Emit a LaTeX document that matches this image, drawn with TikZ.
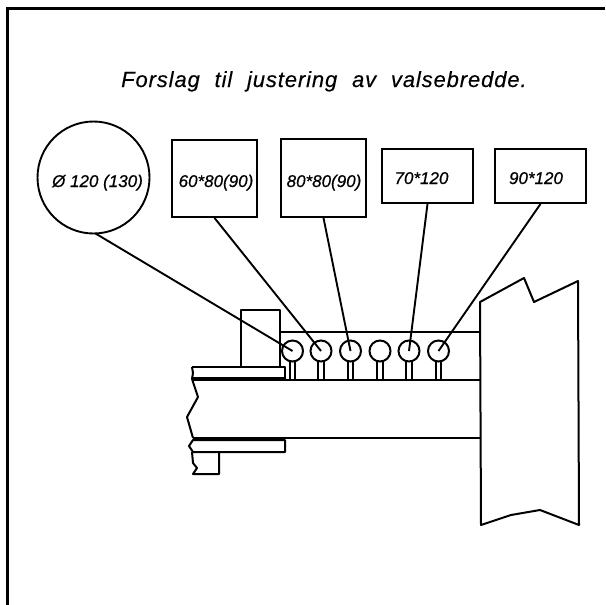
\documentclass[tikz,border=0pt]{standalone}
\usepackage{fontspec}
\setmainfont{Liberation Sans}
\tikzset{
  x=1pt,y=-1pt,
  part/.style={draw=black,line width=2pt,line join=round},
  heavy/.style={draw=black,line width=2.6pt},
  stem/.style={draw=black,line width=1.7pt},
  leader/.style={draw=black,line width=1.9pt},
  tag/.style={draw=black,line width=1.9pt,rectangle,inner sep=0pt},
  tagtext/.style={anchor=base,inner sep=0pt,font=\fontsize{17}{17}\selectfont\itshape\addfontfeatures{FakeBold=0.6}},
  roll/.style={draw=black,line width=2pt,circle,minimum size=21pt,inner sep=0pt,fill=white},
}
\newcommand{\rollstem}[1]{\draw[stem] (#1-2.8,360) -- (#1-2.8,380) (#1+2.8,360) -- (#1+2.8,380);}
\begin{document}
\begin{tikzpicture}
\useasboundingbox (0,0) rectangle (605,605);
% frame
\draw[draw=black,line width=3pt] (7.5,605) -- (7.5,8.5) -- (605,8.5);
% title
\node[anchor=base west,inner sep=0pt,font=\fontsize{22}{22}\selectfont\itshape] (title) at (121,87) {\addfontfeatures{LetterSpace=4,FakeBold=0.3}\spaceskip=14.8pt Forslag til justering av valsebredde.};
% shaft and housing
\draw[part] (280,332) -- (480,332);
\draw[part] (192,380) -- (480,380);
\draw[part] (193,438) -- (480,438);
\draw[part] (192,379) -- (198,397) -- (187,417) -- (193,438);
% small block
\draw[part] (241,367) -- (241,310) -- (280,310) -- (280,367);
% upper plate
\draw[part] (192,367) -- (285,367) -- (285,380);
\draw[part] (192,367) -- (193,373) -- (192,379);
\draw[heavy] (192,378.5) -- (284,378.5);
% lower plate
\draw[part] (193,440) -- (285,440) -- (285,452) -- (193,452) -- (189,446) -- cycle;
\draw[part] (192,452) -- (193,463) -- (197,468) -- (193,474) -- (219,474) -- (219,452);
% right block
\draw[part] (481,525) -- (480,302) -- (524,278) -- (534,302) -- (578,281) -- (579,525) -- (540,510) -- (511,515) -- cycle;
% rolls
\rollstem{292.5}\rollstem{321}\rollstem{350.5}\rollstem{380}\rollstem{409}\rollstem{438.5}
\node[roll] (r1) at (292.5,351) {};
\node[roll] (r2) at (321,351) {};
\node[roll] (r3) at (350.5,351) {};
\node[roll] (r4) at (380,351) {};
\node[roll] (r5) at (409,351) {};
\node[roll] (r6) at (438.5,351) {};
% tags
\node[tag,circle,minimum size=112pt] (c1) at (93.5,177.5) {};
\node[tagtext] (c1t) at (97.5,187) {Ø 120 (130)};
\node[tag,minimum width=85pt,minimum height=77pt] (b2) at (214.5,178.5) {};
\node[tagtext] (b2t) at (216,187) {60*80(90)};
\node[tag,minimum width=85pt,minimum height=78pt] (b3) at (323.5,178) {};
\node[tagtext] (b3t) at (324,187) {80*80(90)};
\node[tag,minimum width=91pt,minimum height=54pt] (b4) at (427.5,176) {};
\node[tagtext] (b4t) at (421.5,184) {70*120};
\node[tag,minimum width=91pt,minimum height=54pt] (b5) at (540.5,176) {};
\node[tagtext] (b5t) at (536,184) {90*120};
% leaders
\draw[leader] (c1) ++(2,56) -- (r1.center);
\draw[leader] (b2.south) -- (r2.center);
\draw[leader] (b3.south) -- (r3.center);
\draw[leader] (b4.south) -- (r5.center);
\draw[leader] (b5.south) -- (r6.center);
\end{tikzpicture}
\end{document}
